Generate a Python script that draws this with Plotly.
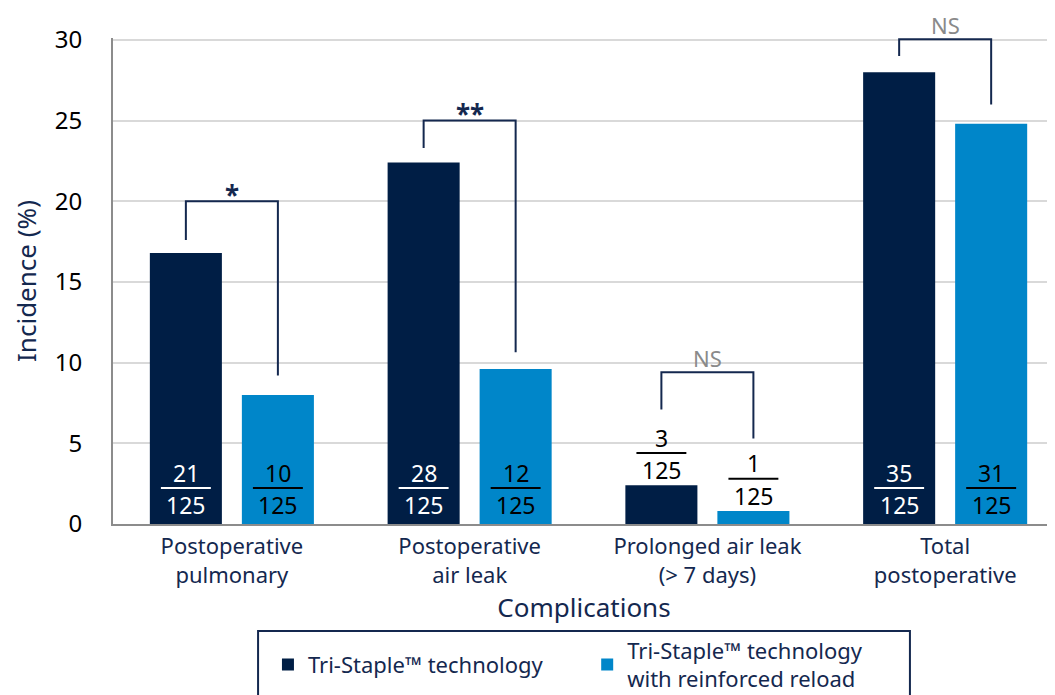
import plotly.graph_objects as go

categories = ["Postoperative<br>pulmonary", "Postoperative<br>air leak",
              "Prolonged air leak<br>(> 7 days)", "Total<br>postoperative"]
series_names = ["Tri-Staple™ technology", "Tri-Staple™ technology<br>with reinforced reload"]
tri_staple = [16.8, 22.4, 2.4, 28.0]
reinforced = [8.0, 9.6, 0.8, 24.8]
tri_counts = [21, 28, 3, 35]
reinf_counts = [10, 12, 1, 31]
denominator = 125
y_ticks = [0, 5, 10, 15, 20, 25, 30]
sig_labels = ["*", "**", "NS", "NS"]
# bracket geometry: (left leg bottom, top, right leg bottom, label y)
brackets = [(17.6, 20.0, 9.2, 20.4), (23.3, 25.0, 10.65, 25.4),
            (7.1, 9.4, 5.3, 10.3), (29.0, 30.05, 26.0, 30.95)]

DARK = "#001e45"
LIGHT = "#0086c9"
NAVY = "#14284f"
FONT = "Noto Sans"
YMAX = 30.12

BW = 0.303
OFFS = [-0.345, 0.042]
x = list(range(len(categories)))

fig = go.Figure()
for name, vals, col, off, lg in [(series_names[0], tri_staple, DARK, OFFS[0], "legend"),
                                 (series_names[1], reinforced, LIGHT, OFFS[1], "legend2")]:
    fig.add_trace(go.Bar(x=x, y=vals, name=name, marker_color=col, width=BW,
                         offset=off, marker_line_width=0, hoverinfo="skip", legend=lg))

annotations = []
shapes = []
half = 0.105
for i in x:
    for vals, counts, off, txtcol in [(tri_staple, tri_counts, OFFS[0], "white"),
                                      (reinforced, reinf_counts, OFFS[1], "black")]:
        cx = i + off + BW / 2
        v = vals[i]
        if v < 5:
            base = v
            txtcol = "black"
            yn, yl, yd = base + 2.95, base + 2.0, base + 0.95
        else:
            yn, yl, yd = 3.18, 2.23, 1.18
        annotations.append(dict(x=cx, y=yn, text=str(counts[i]), showarrow=False,
                                yanchor="middle",
                                font=dict(size=23, color=txtcol, family=FONT)))
        annotations.append(dict(x=cx, y=yd, text=str(denominator), showarrow=False,
                                yanchor="middle",
                                font=dict(size=23, color=txtcol, family=FONT)))
        shapes.append(dict(type="line", xref="x", yref="y", x0=cx - half, x1=cx + half,
                           y0=yl, y1=yl, line=dict(color=txtcol, width=2)))
    # bracket
    xl = i + OFFS[0] + BW / 2
    xr = i + OFFS[1] + BW / 2
    lb, top, rb, ly = brackets[i]
    shapes.append(dict(type="path", xref="x", yref="y",
                       path=f"M {xl},{lb} L {xl},{top} L {xr},{top} L {xr},{rb}",
                       line=dict(color=NAVY, width=2)))
    is_ns = sig_labels[i] == "NS"
    annotations.append(dict(x=(xl + xr) / 2, xref="x", y=ly / YMAX, yref="paper",
                            yanchor="middle", xanchor="center",
                            text=sig_labels[i] if is_ns else f"<b>{sig_labels[i]}</b>",
                            showarrow=False,
                            font=dict(size=22 if is_ns else 26,
                                      color="#8a8a8a" if is_ns else NAVY, family=FONT)))

# legend frame (paper coordinates)
shapes.append(dict(type="rect", xref="paper", yref="paper", x0=0.154, x1=0.846,
                   y0=-0.2202, y1=-0.45, line=dict(color=NAVY, width=2), layer="above"))

leg_common = dict(orientation="h", xanchor="left", xref="container", yref="container",
                  y=0.055, yanchor="middle", borderwidth=0, bgcolor="rgba(0,0,0,0)",
                  font=dict(size=22, color=NAVY, family=FONT))

fig.update_layout(
    width=1055, height=695,
    margin=dict(l=105, r=8, t=30, b=179, autoexpand=False),
    paper_bgcolor="white", plot_bgcolor="white",
    font=dict(family=FONT, color=NAVY),
    barmode="overlay",
    shapes=shapes,
    annotations=annotations,
    showlegend=True,
    legend=dict(x=0.2464, **leg_common),
    legend2=dict(x=0.549, **leg_common),
)
fig.update_xaxes(range=[-0.5, 3.462], tickvals=x, ticktext=categories, automargin=False,
                 showline=True, linecolor="#8c8c8c", linewidth=2, showgrid=False,
                 ticks="", tickfont=dict(size=22, color=NAVY, family=FONT),
                 ticklabelstandoff=2,
                 title=dict(text="Complications", font=dict(size=26, color=NAVY, family=FONT),
                            standoff=8))
fig.update_yaxes(range=[0, YMAX], tickvals=y_ticks, showline=True, linecolor="#8c8c8c",
                 linewidth=2, showgrid=True, gridcolor="#d9d9d9", gridwidth=1.5,
                 zeroline=False, ticks="", ticklabelstandoff=24, automargin=False,
                 tickfont=dict(size=24, color="black", family=FONT),
                 title=dict(text="Incidence (%)", font=dict(size=26, color=NAVY, family=FONT),
                            standoff=14))

fig.write_html("out.html")
